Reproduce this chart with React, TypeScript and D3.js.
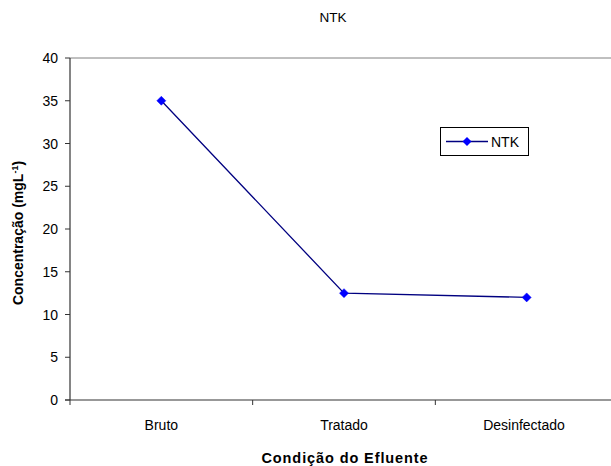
import React from "react";
import * as d3 from "d3";

const categories = ["Bruto", "Tratado", "Desinfectado"];
const ntkValues = [35, 12.5, 12];
const yTicks = [0, 5, 10, 15, 20, 25, 30, 35, 40];
const seriesName = "NTK";

export default function App() {
  const W = 611, H = 466;
  const left = 70, right = 618, top = 58, bottom = 400;
  const x = d3.scaleBand<string>().domain(categories).range([left, right]).padding(0);
  const y = d3.scaleLinear().domain([0, 40]).range([bottom, top]);
  const line = d3.line<number>()
    .x((_, i) => x(categories[i])! + x.bandwidth() / 2)
    .y((d) => y(d));
  const font = "Arial, 'Liberation Sans', sans-serif";
  const diamond = (cx: number, cy: number, r = 4.5) =>
    `M${cx},${cy - r}L${cx + r},${cy}L${cx},${cy + r}L${cx - r},${cy}Z`;
  const tickXs = [0, 1, 2, 3].map((i) => left + i * x.bandwidth());
  return (
    <svg width={W} height={H} style={{ position: "absolute", left: 0, top: 0 }} fontFamily={font}>
      <rect width={W} height={H} fill="#fff" />
      <text x={333} y={22} fontSize={13.5} textAnchor="middle">NTK</text>
      {/* top border */}
      <line x1={left} x2={W} y1={top} y2={top} stroke="#808080" strokeWidth={1} />
      {/* y axis */}
      <line x1={left} x2={left} y1={top} y2={bottom} stroke="#333" strokeWidth={1.2} />
      {yTicks.map((t) => (
        <g key={t}>
          <line x1={left - 5} x2={left} y1={y(t)} y2={y(t)} stroke="#333" />
          <text x={left - 12} y={y(t) + 5} fontSize={14} textAnchor="end">{t}</text>
        </g>
      ))}
      {/* x axis */}
      <line x1={left - 5} x2={W} y1={bottom} y2={bottom} stroke="#333" strokeWidth={1.2} />
      {tickXs.map((tx, i) => (
        <line key={i} x1={tx} x2={tx} y1={bottom} y2={bottom + 5} stroke="#333" />
      ))}
      {categories.map((c, i) => (
        <text key={c} x={i === 2 ? 524 : x(c)! + x.bandwidth() / 2} y={430} fontSize={14} textAnchor="middle">{c}</text>
      ))}
      <text x={345} y={463} fontSize={14.5} fontWeight="bold" letterSpacing={0.9} textAnchor="middle">Condição do Efluente</text>
      <text transform={`translate(23,${(top + bottom) / 2 + 4}) rotate(-90)`} fontSize={14} fontWeight="bold" textAnchor="middle">
        Concentração (mgL<tspan baselineShift="super" fontSize={9}>-1</tspan>)
      </text>
      {/* series */}
      <path d={line(ntkValues) || ""} fill="none" stroke="#000080" strokeWidth={1.3} />
      {ntkValues.map((v, i) => (
        <path key={i} d={diamond(x(categories[i])! + x.bandwidth() / 2, y(v))} fill="#0000ff" stroke="#0000ff" strokeWidth={0.5} />
      ))}
      {/* legend */}
      <rect x={440.5} y={127.5} width={88} height={28} fill="#fff" stroke="#000" strokeWidth={1} />
      <line x1={446} x2={488} y1={141.5} y2={141.5} stroke="#000080" strokeWidth={1.3} />
      <path d={diamond(467, 141.5)} fill="#0000ff" />
      <text x={491} y={146.5} fontSize={14}>{seriesName}</text>
    </svg>
  );
}
